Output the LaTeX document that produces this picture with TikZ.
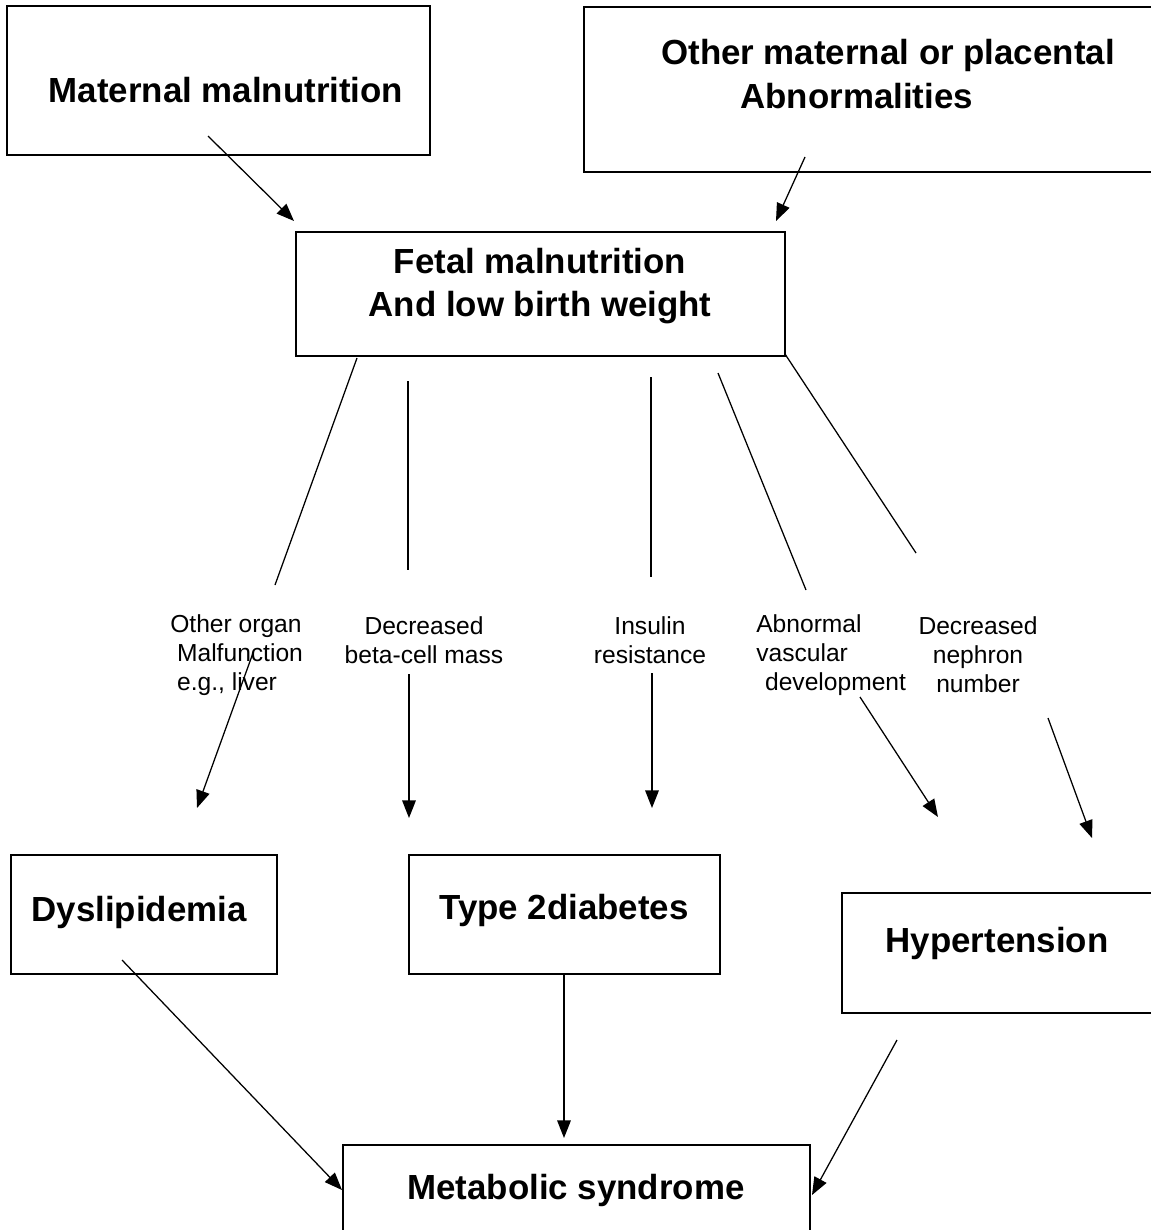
\documentclass[tikz,border=0pt]{standalone}
\usepackage{fontspec}
\setmainfont{Liberation Sans}
\usetikzlibrary{arrows.meta}
\tikzset{
  box/.style={line width=1.2pt, draw=black},
  head/.style={font=\bfseries\fontsize{24.8}{31}\selectfont, align=center, inner sep=0pt},
  lab/.style={font=\fontsize{17.5}{20.6}\selectfont, inner sep=0pt},
  link/.style={line width=0.9pt},
  arr/.style={line width=0.9pt, -{Triangle[length=0.44cm,width=0.34cm]}}
}
\begin{document}
\begin{tikzpicture}[x=0.025cm, y=-0.025cm]
\clip (0,0) rectangle (1151,1230);

% top boxes
\draw[box] (7,6) rectangle (430,155);
\node[head] (maternal) at (226,90) {Maternal malnutrition};
\draw[box] (584,7) rectangle (1160,172);
\node[head, align=left, anchor=west] (placental) at (661,74) {Other maternal or placental\\\hspace*{1.98cm}Abnormalities};

% fetal box
\draw[box] (296,232) rectangle (785,356);
\node[head] (fetal) at (540,286) {Fetal malnutrition\\And low birth weight};

% intermediate labels
\node[lab, align=left, anchor=west] (organ) at (170,655) {Other organ\\\hspace*{0.17cm}Malfunction\\\hspace*{0.17cm}e.g., liver};
\node[lab, align=center] (beta) at (424,640) {Decreased\\beta-cell mass};
\node[lab, align=center] (insulin) at (650,640) {Insulin\\resistance};
\node[lab, align=left, anchor=west] (vascular) at (756,655) {Abnormal\\vascular\\\hspace*{0.22cm}development};
\node[lab, align=center] (nephron) at (978,655) {Decreased\\nephron\\number};

% outcome boxes
\draw[box] (11,855) rectangle (277,974);
\node[head] (dyslip) at (139,912) {Dyslipidemia};
\draw[box] (409,855) rectangle (720,974);
\node[head] (diabetes) at (564,910) {Type 2diabetes};
\draw[box] (842,893) rectangle (1160,1013);
\node[head] (hypert) at (997,943) {Hypertension};
\draw[box] (343,1145) rectangle (810,1245);
\node[head] (metab) at (576,1190) {Metabolic syndrome};

% connector ends
\coordinate (mat-a) at (208,136);  \coordinate (fet-a) at (294,221);
\coordinate (pla-a) at (805,157);  \coordinate (fet-b) at (776,221);
\coordinate (fet-1) at (357,358);  \coordinate (org-t) at (275,585);
\coordinate (fet-2) at (408,381);  \coordinate (beta-t) at (408,570);
\coordinate (fet-3) at (651,377);  \coordinate (ins-t) at (651,577);
\coordinate (fet-4) at (718,373);  \coordinate (vasc-t) at (806,590);
\coordinate (fet-5) at (785,354);  \coordinate (neph-t) at (916,553);
\coordinate (org-b) at (253,653);  \coordinate (dys-a) at (197,808);
\coordinate (beta-b) at (409,674); \coordinate (dia-a) at (409,818);
\coordinate (ins-b) at (652,673);  \coordinate (dia-b) at (652,808);
\coordinate (vasc-b) at (860,697); \coordinate (hyp-a) at (938,817);
\coordinate (neph-b) at (1048,718); \coordinate (hyp-b) at (1092,838);
\coordinate (dys-b) at (122,960);  \coordinate (met-a) at (342,1190);
\coordinate (dia-c) at (564,974);  \coordinate (met-b) at (564,1138);
\coordinate (hyp-c) at (897,1040); \coordinate (met-c) at (812,1195);

% causes
\draw[arr] (mat-a) -- (fet-a);
\draw[arr] (pla-a) -- (fet-b);

% branches
\draw[link] (fet-1) -- (org-t);
\draw[link] (fet-2) -- (beta-t);
\draw[link] (fet-3) -- (ins-t);
\draw[link] (fet-4) -- (vasc-t);
\draw[link] (fet-5) -- (neph-t);

% effects
\draw[arr] (org-b) -- (dys-a);
\draw[arr] (beta-b) -- (dia-a);
\draw[arr] (ins-b) -- (dia-b);
\draw[arr] (vasc-b) -- (hyp-a);
\draw[arr] (neph-b) -- (hyp-b);

% syndrome
\draw[arr] (dys-b) -- (met-a);
\draw[arr] (dia-c) -- (met-b);
\draw[arr] (hyp-c) -- (met-c);
\end{tikzpicture}
\end{document}
